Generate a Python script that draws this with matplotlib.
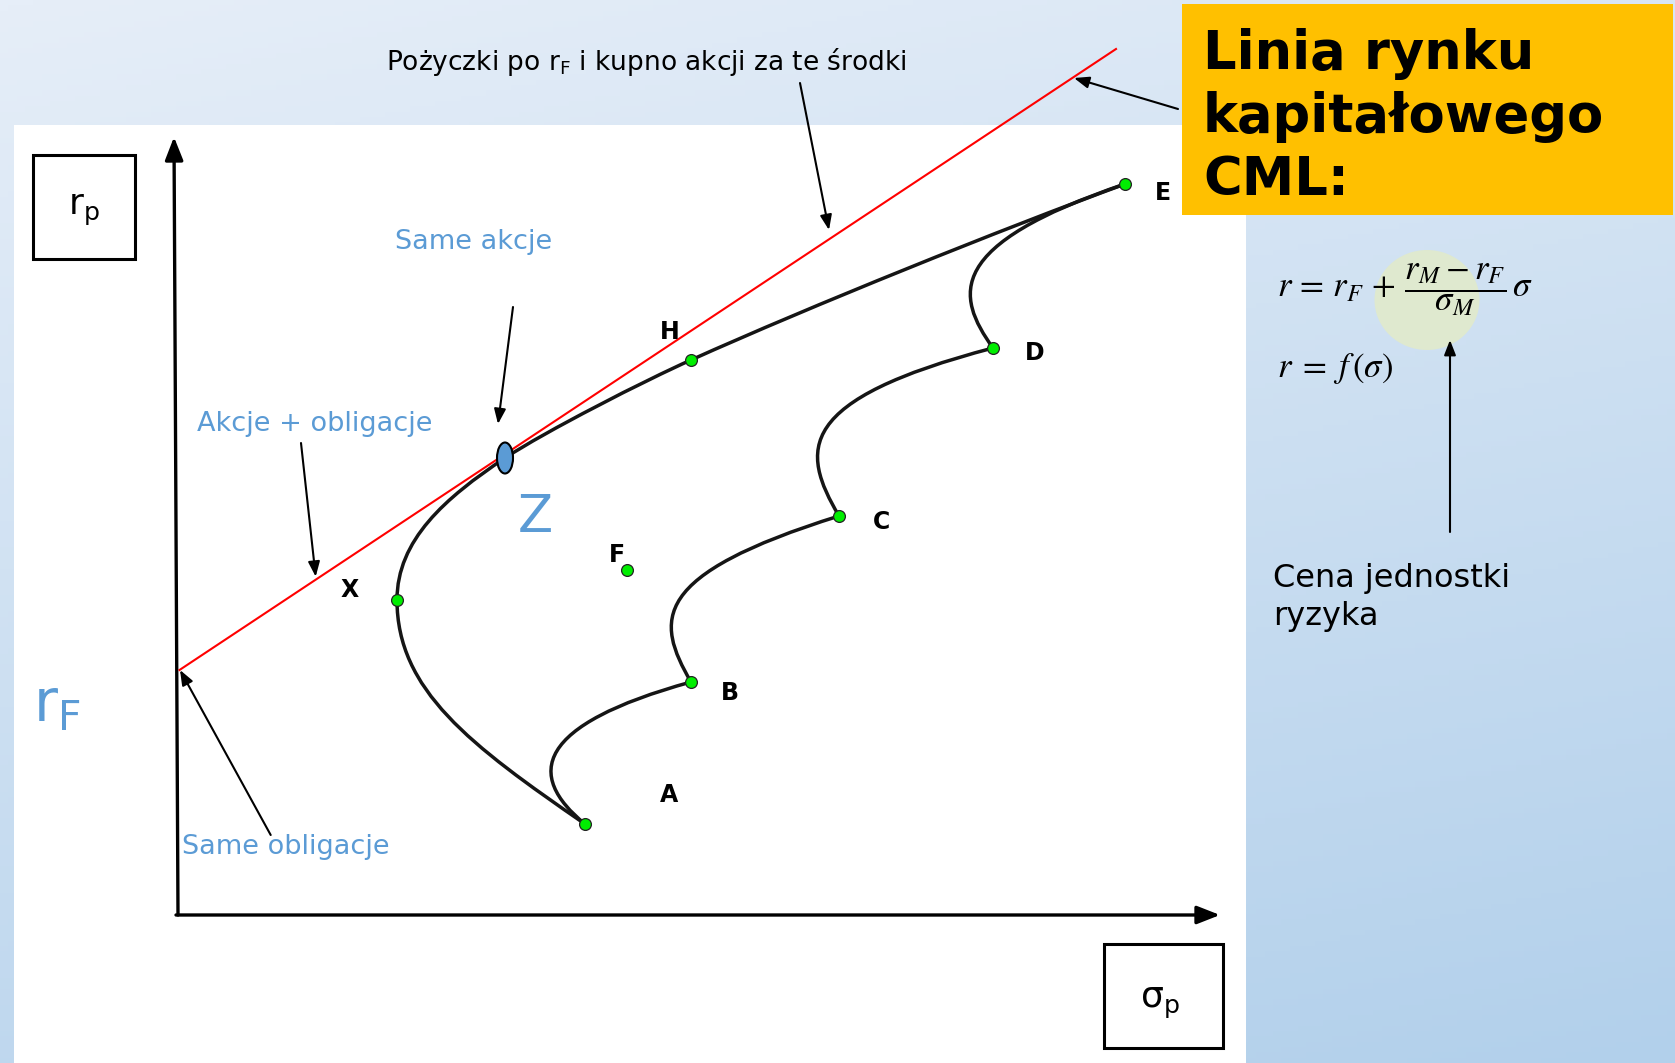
import numpy as np
import matplotlib.pyplot as plt
from matplotlib.path import Path
from matplotlib.patches import PathPatch, Rectangle, Ellipse
from matplotlib.colors import LinearSegmentedColormap

W, H = 1675, 1063

# portfolios on the risk / return plane (sigma_p, r_p)
names = ["A", "B", "C", "D", "E", "F", "H", "X"]
sigma = [4.09, 5.15, 6.63, 8.17, 9.49, 4.51, 5.15, 2.21]
ret = [0.91, 2.33, 3.99, 5.67, 7.31, 3.45, 5.55, 3.15]

# market portfolio Z (tangency point)
z_sigma, z_ret = 3.29, 4.57

# capital market line, starts at r_F on the r axis
r_f = 2.45
cml_sigma = [0.035, 9.40]
cml_ret = [2.45, 8.66]

# efficient frontier A-X-Z-H-E as cubic bezier chain (anchor, ctrl, ctrl, anchor, ...)
frontier = [(4.09, 0.91), (2.94, 1.70), (2.21, 2.25), (2.21, 3.15),
            (2.21, 3.75), (2.69, 4.17), (3.29, 4.57),
            (3.69, 4.835), (4.70, 5.35), (5.15, 5.55),
            (6.35, 6.09), (8.24, 6.85), (9.49, 7.31)]

# lower boundary A-B-C-D-E
lower = [(4.09, 0.91), (3.49, 1.40), (3.59, 1.90), (5.15, 2.33),
         (4.79, 2.95), (4.74, 3.40), (6.63, 3.99),
         (6.24, 4.65), (6.19, 5.15), (8.17, 5.67),
         (7.79, 6.20), (7.69, 6.70), (9.49, 7.31)]

axis_sigma_max = 10.44
axis_r_max = 7.78


def fig_xy(x, y):
    # pixel position in the picture -> figure fraction
    return x / W, 1 - y / H


def bezier_path(pts):
    codes = [Path.MOVETO] + [Path.CURVE4] * (len(pts) - 1)
    return Path(pts, codes)


fig = plt.figure(figsize=(W / 100, H / 100), dpi=100)

# background gradient
bg = fig.add_axes([0, 0, 1, 1], zorder=0)
gx, gy = np.meshgrid(np.linspace(0, 1, 200), np.linspace(0, 1, 200))
cmap = LinearSegmentedColormap.from_list("bg", ["#e6eef8", "#b2d0eb"])
bg.imshow(0.75 * gy + 0.25 * gx, cmap=cmap, aspect="auto", extent=[0, 1, 0, 1],
          origin="upper", vmin=0, vmax=1)
bg.add_patch(Rectangle(fig_xy(14, 1063), (1246 - 14) / W, (1063 - 125) / H,
                       transform=bg.transAxes, facecolor="white", edgecolor="none"))
bg.set_xlim(0, 1)
bg.set_ylim(0, 1)
bg.axis("off")

# main diagram, 1 data unit = 100 px
ax = fig.add_axes([0, 0, 1, 1], zorder=1)
ax.set_facecolor("none")
ax.set_xlim(-1.76, 14.99)
ax.set_ylim(-1.48, 9.15)
ax.axis("off")

# axes with arrows
ax.annotate("", xy=(-0.02, axis_r_max), xytext=(0.02, 0),
            arrowprops=dict(arrowstyle="-|>,head_length=1.4,head_width=0.55",
                            color="black", lw=2.4, shrinkA=0, shrinkB=0))
ax.annotate("", xy=(axis_sigma_max, 0), xytext=(0, 0),
            arrowprops=dict(arrowstyle="-|>,head_length=1.4,head_width=0.55",
                            color="black", lw=2.4, shrinkA=0, shrinkB=0))

# CML
ax.plot(cml_sigma, cml_ret, color="#ff0000", lw=1.5, zorder=3)

# frontier curves
for pts in (frontier, lower):
    ax.add_patch(PathPatch(bezier_path(pts), facecolor="none", edgecolor="#151515",
                           lw=2.5, zorder=4, capstyle="round"))

# points
ax.plot(sigma, ret, "o", ms=8.5, color="#00ee00", mec="#222222", mew=0.9, zorder=6)
ax.add_patch(Ellipse((z_sigma, z_ret), 0.16, 0.31, facecolor="#5b9bd5",
                     edgecolor="black", lw=1.5, zorder=6))

offsets = {"A": (84, 29), "B": (39, -11), "C": (42, -6), "D": (42, -5),
           "E": (38, -9), "F": (-10, 15), "H": (-21, 28), "X": (-47, 10)}
for n, s, r in zip(names, sigma, ret):
    ax.annotate(n, (s, r), xytext=offsets[n], textcoords="offset pixels",
                ha="center", va="center", fontsize=17, fontweight="bold", zorder=7)

blue = "#5b9bd5"
fig.text(*fig_xy(535, 518), "Z", color=blue, fontsize=37, ha="center", va="center")
fig.text(*fig_xy(33, 705), r"r$_{\rm F}$", color=blue, fontsize=42, ha="left", va="center")
fig.text(*fig_xy(474, 242), "Same akcje", color=blue, fontsize=19.5, ha="center", va="center")
fig.text(*fig_xy(315, 424), "Akcje + obligacje", color=blue, fontsize=19.5,
         ha="center", va="center")
fig.text(*fig_xy(286, 847), "Same obligacje", color=blue, fontsize=19.5,
         ha="center", va="center")

fig.text(*fig_xy(646, 62), r"Pożyczki po r$_{\rm F}$ i kupno akcji za te środki",
         fontsize=19, ha="center", va="center")

# annotation arrows
arrow_kw = dict(arrowstyle="-|>,head_length=0.9,head_width=0.35", color="black",
                lw=1.5, shrinkA=0, shrinkB=0)
for start, tip in [((6.24, 8.32), (6.53, 6.85)),
                   ((10.02, 8.06), (8.98, 8.37)),
                   ((3.37, 6.08), (3.22, 4.91)),
                   ((1.25, 4.72), (1.397, 3.383)),
                   ((0.947, 0.80), (0.04, 2.45)),
                   ((12.74, 3.83), (12.74, 5.75))]:
    ax.annotate("", xy=tip, xytext=start, arrowprops=arrow_kw, zorder=8)

# axis name boxes
ax.add_patch(Rectangle(fig_xy(33, 259), 102 / W, 104 / H, transform=ax.transAxes,
                       facecolor="white", edgecolor="black", lw=2.2))
fig.text(*fig_xy(84, 210), r"r$_{\rm p}$", fontsize=26, ha="center", va="center")
ax.add_patch(Rectangle(fig_xy(1104, 1048), 119 / W, 104 / H, transform=ax.transAxes,
                       facecolor="white", edgecolor="black", lw=2.2))
fig.text(*fig_xy(1160, 1003), r"σ$_{\rm p}$", fontsize=26, ha="center", va="center")

# title box
ax.add_patch(Rectangle(fig_xy(1182, 215), (1673 - 1182) / W, (215 - 4) / H,
                       transform=ax.transAxes, facecolor="#ffc000", edgecolor="none",
                       zorder=9))
for line, base in [("Linia rynku", 69), ("kapitałowego", 132), ("CML:", 195)]:
    fig.text(*fig_xy(1203, base), line, fontsize=38, fontweight="bold",
             ha="left", va="baseline", zorder=10)

# formula with highlighted price of risk
ax.add_patch(Ellipse(((1427 - 176) / 100, (915 - 300) / 100), 1.05, 1.0,
                     facecolor="#dfe9cf", edgecolor="none", zorder=2))
fig.text(*fig_xy(1277, 290),
         r"$r\,=\,r_F\,+\,\dfrac{r_M - r_F}{\sigma_M}\,\sigma$",
         fontsize=25, math_fontfamily="stix", ha="left", va="center", zorder=5)
fig.text(*fig_xy(1277, 368), r"$r\;=\;f\,(\sigma)$",
         fontsize=25, math_fontfamily="stix", ha="left", va="center", zorder=5)

fig.text(*fig_xy(1273, 578), "Cena jednostki", fontsize=23, ha="left", va="center")
fig.text(*fig_xy(1273, 617), "ryzyka", fontsize=23, ha="left", va="center")

fig.savefig("out.png", dpi=100)
